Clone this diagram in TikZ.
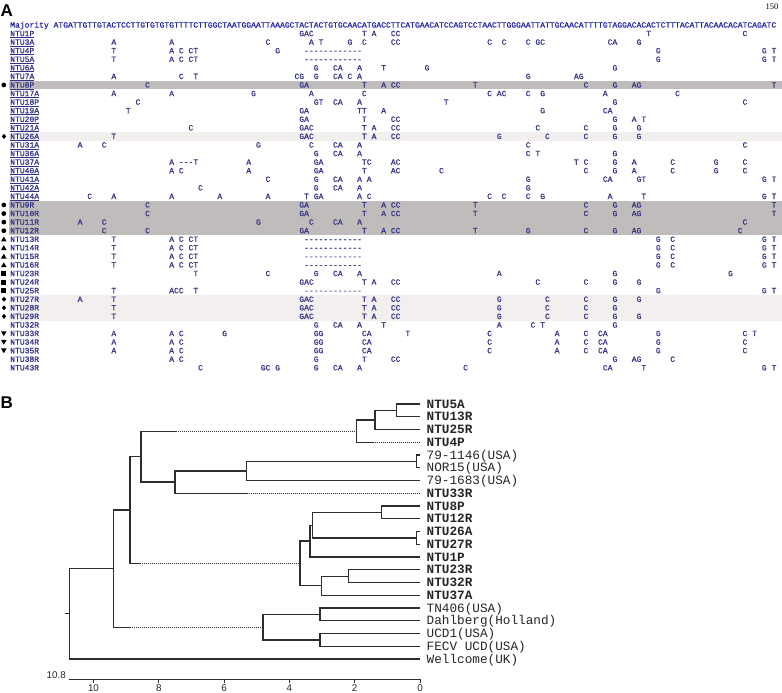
\documentclass[tikz,border=0pt]{standalone}
\usepackage{fontspec}
\setmainfont{Liberation Sans}
\newfontfamily\seqfont[FakeBold=0.9]{Liberation Mono}
\newfontfamily\treefont{Liberation Mono}
\newfontfamily\serfont{Liberation Serif}
\definecolor{seqc}{RGB}{52,52,135}
\definecolor{majc}{RGB}{38,38,165}
\definecolor{shadeD}{RGB}{192,188,188}
\definecolor{shadeL}{RGB}{242,239,238}
\definecolor{treec}{RGB}{45,45,45}
\newcommand\twelvedash{-{}-{}-{}-{}-{}-{}-{}-{}-{}-{}-{}-}
\newcommand\threedashT{-{}-{}-T}
\newcommand\rowy[1]{25+#1*8.57}
\newcommand\seqrow[3]{%
  \node[lbl] (l#1) at (10,{25+#1*8.57+2.6}) {#2};
  \foreach \c/\t in {#3}{\node[seqtxt] at ({53.4+(\c-1)*4.818},{25+#1*8.57+2.6}) {\t};}}
\newcommand\ulrow[1]{\draw[seqc,line width=0.5pt] ([yshift=-1.2pt]l#1.base west) -- ([yshift=-1.2pt]l#1.base east);}
\newcommand\mkcirc[1]{\fill (3.8,{25+#1*8.57}) circle (2.4pt);}
\newcommand\mkdiam[1]{\fill (4,{25+#1*8.57}) +(0,-2.5) -- +(2.2,0) -- +(0,2.5) -- +(-2.2,0) -- cycle;}
\newcommand\mktriu[1]{\fill (3.8,{25+#1*8.57}) +(-2.8,2.2) -- +(2.8,2.2) -- +(0,-2.6) -- cycle;}
\newcommand\mktrid[1]{\fill (3.8,{25+#1*8.57}) +(-2.8,-2.2) -- +(2.8,-2.2) -- +(0,2.6) -- cycle;}
\newcommand\mksq[1]{\fill (1.4,{25+#1*8.57-2.4}) rectangle (6.2,{25+#1*8.57+2.4});}
\begin{document}
\begin{tikzpicture}[x=1pt,y=-1pt,
  seqtxt/.style={anchor=base west,inner sep=0pt,font=\seqfont\fontsize{8.03}{9}\selectfont,text=seqc},
  lbl/.style={seqtxt},
  br/.style={draw=treec,line width=1.25pt},
  dsh/.style={draw=treec,line width=1.2pt,dash pattern=on 1pt off 1pt},
  leafb/.style={anchor=base west,inner sep=0pt,font=\treefont\bfseries\fontsize{12.7}{14}\selectfont,text=black!85},
  leafr/.style={anchor=base west,inner sep=0pt,font=\treefont\fontsize{12.7}{14}\selectfont,text=black!85},
  ticklab/.style={inner sep=0pt,font=\fontsize{9.8}{11}\selectfont,text=black!85}]
\useasboundingbox (0,0) rectangle (782,693);
\fill[white] (0,0) rectangle (782,693);
% shaded bands
\fill[shadeD] (9,{\rowy{7}-4.3}) rectangle (782,{\rowy{7}+4.3});
\fill[shadeD] (9,{\rowy{21}-4.3}) rectangle (782,{\rowy{24}+4.3});
\fill[shadeL] (9,{\rowy{13}-4.3}) rectangle (782,{\rowy{13}+4.3});
\fill[shadeL] (9,{\rowy{32}-4.3}) rectangle (782,{\rowy{34}+4.3});
% panel labels
\node[anchor=base west,inner sep=0pt,font=\bfseries\fontsize{17}{18}\selectfont] (pA) at (0.5,16.5) {A};
\node[anchor=base west,inner sep=0pt,font=\bfseries\fontsize{17}{18}\selectfont] (pB) at (0.5,408.5) {B};
\node[anchor=base east,inner sep=0pt,font=\serfont\fontsize{8.5}{9}\selectfont] (n150) at (778.5,9.5) {150};
% majority
\node[seqtxt,text=majc] (maj) at (10,27.6) {Majority};
\node[seqtxt,text=majc] (majseq) at (53.4,27.6) {ATGATTGTTGTACTCCTTGTGTGTGTTTTCTTGGCTAATGGAATTAAAGCTACTACTGTGCAACATGACCTTCATGAACATCCAGTCCTAACTTGGGAATTATTGCAACATTTTGTAGGACACACTCTTTACATTACAACACATCAGATC};
% rows
\seqrow{1}{NTU1P}{52/GAC,65/T,67/A,71/CC,124/T,144/C}
\seqrow{2}{NTU3A}{13/A,25/A,45/C,54/A,56/T,62/G,65/C,71/CC,91/C,94/C,99/C,101/GC,116/CA,122/G}
\seqrow{3}{NTU4P}{13/T,25/A,27/C,29/CT,47/G,53/\twelvedash,126/G,148/G,150/T}
\seqrow{4}{NTU5A}{13/T,25/A,27/C,29/CT,53/\twelvedash,126/G,148/G,150/T}
\seqrow{5}{NTU6A}{55/G,59/CA,64/A,69/T,78/G,117/G}
\seqrow{6}{NTU7A}{13/A,27/C,30/T,51/CG,55/G,59/CA,62/C,64/A,99/G,109/AG}
\seqrow{7}{NTU8P}{20/C,52/GA,65/T,69/A,71/CC,88/T,111/C,117/G,121/AG,150/T}
\seqrow{8}{NTU17A}{13/A,25/A,42/G,54/A,65/C,91/C,93/AC,99/C,102/G,115/A,130/C}
\seqrow{9}{NTU18P}{18/C,55/GT,59/CA,64/A,82/T,117/G,144/C}
\seqrow{10}{NTU19A}{16/T,52/GA,64/TT,69/A,102/G,115/CA}
\seqrow{11}{NTU20P}{52/GA,65/T,71/CC,117/G,121/A,123/T}
\seqrow{12}{NTU21A}{29/C,52/GAC,65/T,67/A,71/CC,101/C,111/C,117/G,122/G}
\seqrow{13}{NTU26A}{13/T,52/GAC,65/T,67/A,71/CC,93/G,103/C,111/C,117/G,122/G}
\seqrow{14}{NTU31A}{6/A,11/C,43/G,54/C,59/CA,64/A,99/C,144/C}
\seqrow{15}{NTU36A}{55/G,59/CA,64/A,99/C,101/T,117/G}
\seqrow{16}{NTU37A}{25/A,27/\threedashT,41/A,55/GA,65/TC,71/AC,109/T,111/C,117/G,121/A,129/C,138/G,144/C}
\seqrow{17}{NTU40A}{25/A,27/C,41/A,55/GA,65/T,71/AC,81/C,111/C,117/G,121/A,129/C,138/G,144/C}
\seqrow{18}{NTU41A}{45/C,55/G,59/CA,64/A,66/A,99/G,115/CA,122/GT,148/G,150/T}
\seqrow{19}{NTU42A}{31/C,55/G,59/CA,64/A,99/G}
\seqrow{20}{NTU44A}{8/C,13/A,25/A,35/A,45/A,53/T,55/GA,64/A,66/C,91/C,94/C,99/C,102/G,116/A,123/T,148/G,150/T}
\seqrow{21}{NTU9R}{20/C,52/GA,65/T,69/A,71/CC,88/T,111/C,117/G,121/AG,150/T}
\seqrow{22}{NTU10R}{20/C,52/GA,65/T,69/A,71/CC,88/T,111/C,117/G,121/AG,150/T}
\seqrow{23}{NTU11R}{6/A,11/C,43/G,54/C,59/CA,64/A,144/C}
\seqrow{24}{NTU12R}{11/C,20/C,52/GA,65/T,69/A,71/CC,88/T,99/G,111/C,117/G,121/AG,143/C}
\seqrow{25}{NTU13R}{13/T,25/A,27/C,29/CT,53/\twelvedash,126/G,129/C,148/G,150/T}
\seqrow{26}{NTU14R}{13/T,25/A,27/C,29/CT,53/\twelvedash,126/G,129/C,148/G,150/T}
\seqrow{27}{NTU15R}{13/T,25/A,27/C,29/CT,53/\twelvedash,126/G,129/C,148/G,150/T}
\seqrow{28}{NTU16R}{13/T,25/A,27/C,29/CT,53/\twelvedash,126/G,129/C,148/G,150/T}
\seqrow{29}{NTU23R}{30/T,45/C,55/G,59/CA,64/A,93/A,117/G,141/G}
\seqrow{30}{NTU24R}{52/GAC,65/T,67/A,71/CC,101/C,111/C,117/G,122/G}
\seqrow{31}{NTU25R}{13/T,25/ACC,30/T,53/\twelvedash,126/G,148/G,150/T}
\seqrow{32}{NTU27R}{6/A,13/T,52/GAC,65/T,67/A,71/CC,93/G,103/C,111/C,117/G,122/G}
\seqrow{33}{NTU28R}{13/T,52/GAC,65/T,67/A,71/CC,93/G,103/C,111/C,117/G}
\seqrow{34}{NTU29R}{13/T,52/GAC,65/T,67/A,71/CC,93/G,103/C,111/C,117/G,122/G}
\seqrow{35}{NTU32R}{55/G,59/CA,64/A,69/T,93/A,100/C,102/T,117/G}
\seqrow{36}{NTU33R}{13/A,25/A,27/C,36/G,55/GG,65/CA,74/T,91/C,105/A,111/C,114/CA,126/G,144/C,146/T}
\seqrow{37}{NTU34R}{13/A,25/A,27/C,55/GG,65/CA,91/C,105/A,111/C,114/CA,126/G,144/C}
\seqrow{38}{NTU35R}{13/A,25/A,27/C,55/GG,65/CA,91/C,105/A,111/C,114/CA,126/G,144/C}
\seqrow{39}{NTU38R}{25/A,27/C,55/G,65/T,71/CC,117/G,121/AG,129/C}
\seqrow{40}{NTU43R}{31/C,44/GC,47/G,55/G,59/CA,64/A,86/C,115/CA,123/T,148/G,150/T}
\foreach \r in {1,...,20}{\ulrow{\r}}
% markers
\mkcirc{7}
\mkdiam{13}
\foreach \r in {21,...,24}{\mkcirc{\r}}
\foreach \r in {25,...,28}{\mktriu{\r}}
\foreach \r in {29,...,31}{\mksq{\r}}
\foreach \r in {32,...,34}{\mkdiam{\r}}
\foreach \r in {36,...,38}{\mktrid{\r}}
% ---------------- panel B tree
\foreach \i/\y in {0/404,1/416.75,2/429.5,3/442.25,4/455,5/467.75,6/480.5,7/493.25,8/506,9/518.75,10/531.5,11/544.25,12/557,13/569.75,14/582.5,15/595.25,16/608,17/620.75,18/633.5,19/646.25,20/659}{\coordinate (L\i) at (420,\y);}
\node[leafb] (t0) at ([xshift=6.5pt,yshift=-4.2pt]L0) {NTU5A};
\node[leafb] (t1) at ([xshift=6.5pt,yshift=-4.2pt]L1) {NTU13R};
\node[leafb] (t2) at ([xshift=6.5pt,yshift=-4.2pt]L2) {NTU25R};
\node[leafb] (t3) at ([xshift=6.5pt,yshift=-4.2pt]L3) {NTU4P};
\node[leafr] (t4) at ([xshift=6.5pt,yshift=-4.2pt]L4) {79-1146(USA)};
\node[leafr] (t5) at ([xshift=6.5pt,yshift=-4.2pt]L5) {NOR15(USA)};
\node[leafr] (t6) at ([xshift=6.5pt,yshift=-4.2pt]L6) {79-1683(USA)};
\node[leafb] (t7) at ([xshift=6.5pt,yshift=-4.2pt]L7) {NTU33R};
\node[leafb] (t8) at ([xshift=6.5pt,yshift=-4.2pt]L8) {NTU8P};
\node[leafb] (t9) at ([xshift=6.5pt,yshift=-4.2pt]L9) {NTU12R};
\node[leafb] (t10) at ([xshift=6.5pt,yshift=-4.2pt]L10) {NTU26A};
\node[leafb] (t11) at ([xshift=6.5pt,yshift=-4.2pt]L11) {NTU27R};
\node[leafb] (t12) at ([xshift=6.5pt,yshift=-4.2pt]L12) {NTU1P};
\node[leafb] (t13) at ([xshift=6.5pt,yshift=-4.2pt]L13) {NTU23R};
\node[leafb] (t14) at ([xshift=6.5pt,yshift=-4.2pt]L14) {NTU32R};
\node[leafb] (t15) at ([xshift=6.5pt,yshift=-4.2pt]L15) {NTU37A};
\node[leafr] (t16) at ([xshift=6.5pt,yshift=-4.2pt]L16) {TN406(USA)};
\node[leafr] (t17) at ([xshift=6.5pt,yshift=-4.2pt]L17) {Dahlberg(Holland)};
\node[leafr] (t18) at ([xshift=6.5pt,yshift=-4.2pt]L18) {UCD1(USA)};
\node[leafr] (t19) at ([xshift=6.5pt,yshift=-4.2pt]L19) {FECV UCD(USA)};
\node[leafr] (t20) at ([xshift=6.5pt,yshift=-4.2pt]L20) {Wellcome(UK)};
% internal nodes
\coordinate (Q1) at (396.7,410.375);
\coordinate (Q2) at (375,419.94);
\coordinate (Q3) at (356.7,431.16);
\coordinate (I) at (416.7,461.375);
\coordinate (H) at (246.7,470.94);
\coordinate (G) at (175,482.09);
\coordinate (F) at (141,456.62);
\coordinate (P1) at (381.7,512.375);
\coordinate (P2) at (416.7,537.875);
\coordinate (P3) at (312.3,525.125);
\coordinate (P4) at (310,541.06);
\coordinate (P5) at (348.3,576.125);
\coordinate (P6) at (321.7,585.69);
\coordinate (J) at (300,563.375);
\coordinate (B) at (130,510);
\coordinate (D) at (320,614.375);
\coordinate (E) at (320,639.875);
\coordinate (C) at (263,627.125);
\coordinate (A) at (113.3,568.56);
\coordinate (R) at (69.3,613.78);
\draw[br] (L0) -| (Q1) |- (L1);
\draw[br] (Q1) -| (Q2) |- (L2);
\draw[br] (Q2) -| (Q3) |- (373,442.25) coordinate (d1);
\draw[dsh] (d1) -- (L3);
\draw[br] (L4) -| (I) |- (L5);
\draw[br] (I) -| (H) |- (L6);
\draw[br] (H) -| (G) |- (246.7,493.25) coordinate (d2);
\draw[dsh] (d2) -- (L7);
\draw[dsh] (Q3) -- (176.7,431.16) coordinate (d3);
\draw[br] (d3) -| (F) |- (G);
\draw[br] (L8) -| (P1) |- (L9);
\draw[br] (L10) -| (P2) |- (L11);
\draw[br] (P1) -| (P3) |- (P2);
\draw[br] (P3) -| (P4) |- (L12);
\draw[br] (L13) -| (P5) |- (L14);
\draw[br] (P5) -| (P6) |- (L15);
\draw[br] (P4) -| (J) |- (P6);
\draw[br] (F) -| (B) |- (140,563.375) coordinate (d4);
\draw[dsh] (d4) -- (J);
\draw[br] (L16) -| (D) |- (L17);
\draw[br] (L18) -| (E) |- (L19);
\draw[br] (D) -| (C) |- (E);
\draw[br] (B) -| (A) |- (130,627.125) coordinate (d5);
\draw[dsh] (d5) -- (C);
\draw[br] (A) -| (R) |- (L20);
\draw[br] (65,613.78) -- (R);
% axis
\coordinate (ax0) at (69.3,679.3);
\coordinate (ax1) at (420,679.3);
\draw[br,line width=1.1pt] (ax0) -- (ax1);
\foreach \k in {0,2,4,6,8,10}{
  \draw[treec,line width=1pt] ({420-32.65*\k},679.3) -- ++(0,3.5);
  \node[ticklab] at ({420-32.65*\k},688.3) {\k};}
\node[ticklab,anchor=east] (lab108) at (66,675.3) {10.8};
\end{tikzpicture}
\end{document}
